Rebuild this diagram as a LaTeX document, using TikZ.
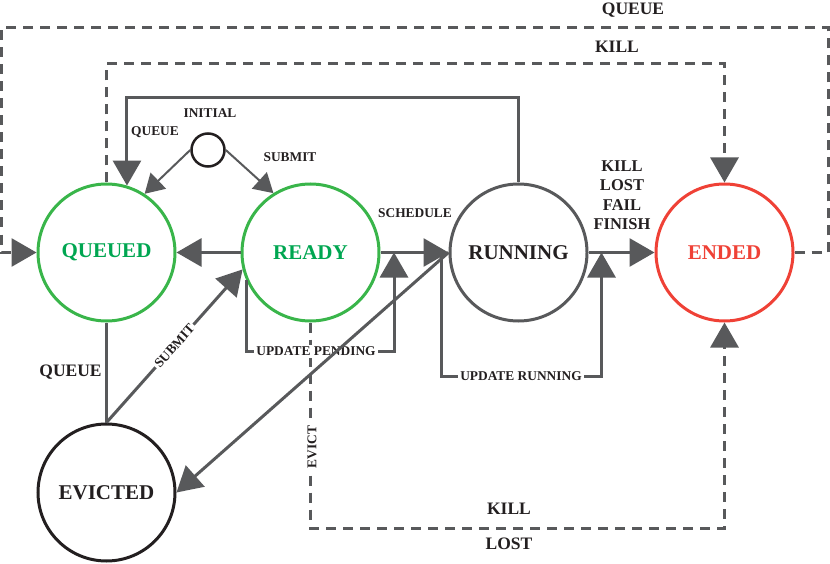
\documentclass[tikz,border=0pt]{standalone}
\usepackage{fontspec}
\setmainfont{Liberation Serif}
\usetikzlibrary{arrows.meta,positioning,calc}
\definecolor{lgray}{HTML}{58595B}
\definecolor{stgreen}{HTML}{39B54A}
\definecolor{txtgreen}{HTML}{00A651}
\definecolor{stred}{HTML}{EF4136}
\definecolor{inkblack}{HTML}{231F20}

\begin{document}
\begin{tikzpicture}[
  x=1pt, y=1pt,
  state/.style={circle, draw, line width=3pt, minimum size=137pt, inner sep=0pt, font=\fontsize{21}{25}\selectfont\bfseries},
  arrow/.style={-{Triangle[length=25pt,width=28pt]}, line width=3pt, draw=lgray},
  thinarrow/.style={-{Triangle[length=19pt,width=22pt]}, line width=2pt, draw=lgray},
  plainline/.style={line width=3pt, draw=lgray},
  dashline/.style={dash pattern=on 10pt off 7pt},
  small/.style={font=\fontsize{13.4}{15}\selectfont\bfseries, text=inkblack, inner sep=2pt},
  big/.style={font=\fontsize{17.5}{20}\selectfont\bfseries, text=inkblack}
]
  \useasboundingbox (0,0) rectangle (830,-564);
  \node[state, draw=stgreen, text=txtgreen] (queued) at (106.5,-252.5) {QUEUED};
  \node[state, draw=stgreen, text=txtgreen, right=64pt of queued] (ready) {READY};
  \node[state, draw=lgray, text=inkblack, right=68pt of ready] (running) {RUNNING};
  \node[state, draw=stred, text=stred, right=66pt of running] (ended) {ENDED};
  \node[state, draw=inkblack, text=inkblack, below=100pt of queued] (evicted) {EVICTED};
  \node[circle, draw=inkblack, line width=2.5pt, minimum size=33pt, inner sep=0pt] (init) at (208,-150) {};

  \coordinate (outr) at (828.5,-28);
  \coordinate (outl) at (1.5,-28);
  \draw[arrow, dashline] (ended.east) -| (outr) -- (outl) |- (queued.west);
  \draw[arrow, dashline] (queued.north) |- (ended.north |- 0,-64) -- (ended.north);
  \coordinate (evbot) at (ready.south |- 0,-528);
  \draw[arrow, dashline] (ready.south) -- (evbot) -| (ended.south);
  \node[small, fill=white, rotate=90] (evictlbl) at (312,-447) {EVICT};
  \node[big] (queuetop) at (633,-10) {QUEUE};
  \node[big] (killtop) at (617,-47) {KILL};
  \node[big] (killbot) at (509,-509) {KILL};
  \node[big] (lostbot) at (509,-544) {LOST};

  \coordinate (qloop) at (queued.73 |- 0,-98);
  \draw[arrow] (running.north) |- (qloop) -- (queued.73);
  \draw[thinarrow] (init.west) -- (queued.57);
  \draw[thinarrow] (init.east) -- (ready.122);
  \node[small] (initlbl) at (210,-113) {INITIAL};
  \node[small] (queuelbl) at (155,-132) {QUEUE};
  \node[small] (submitlbl) at (290,-157) {SUBMIT};

  \draw[arrow] (ready) -- (queued);
  \draw[arrow] (ready) -- (running);
  \node[small] (schedlbl) at (415,-213) {SCHEDULE};
  \draw[arrow] (running) -- (ended);
  \node[align=center, font=\fontsize{16.5}{19.5}\selectfont\bfseries, text=inkblack] (endlbl) at (622,-195) {KILL\\LOST\\FAIL\\FINISH};

  \coordinate (pendtip) at ($(ready.east)+(13.5,0)$);
  \draw[arrow] (ready.203) |- (pendtip |- 0,-351.5) -- (pendtip);
  \node[small, fill=white] (pendlbl) at (316,-351.5) {UPDATE PENDING};
  \coordinate (runlft) at ($(running.west)+(-7,-3)$);
  \coordinate (runrgt) at ($(running.east)+(13,0)$);
  \draw[arrow] (runlft) |- (runrgt |- 0,-376) -- (runrgt);
  \node[small, fill=white] (runlbl) at (521,-376) {UPDATE RUNNING};

  \draw[arrow] (running.west) -- (evicted.east);
  \draw[arrow] (evicted.north) -- node[small, sloped, fill=white] (evsubmit) {SUBMIT} (ready.194);
  \draw[plainline] (queued.south) -- node[big, left] (evqueue) {QUEUE} (evicted.north);
\end{tikzpicture}
\end{document}
